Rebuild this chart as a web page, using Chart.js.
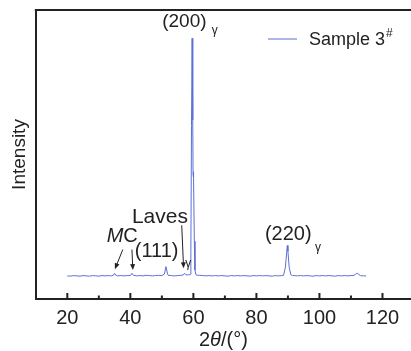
<!DOCTYPE html>
<html>
<head>
<meta charset="utf-8">
<script src="https://cdn.jsdelivr.net/npm/chart.js@4/dist/chart.umd.min.js"></script>
<style>
  html, body { margin: 0; padding: 0; background: #fff; }
  #wrap { width: 411px; height: 351px; }
</style>
</head>
<body>
<div id="wrap"><canvas id="xrd" width="411" height="351"></canvas></div>
<script>
// 衍射数据
const twoTheta = [
  20, 21, 22, 23, 24, 25, 26, 27, 28, 29, 30, 31, 32, 33, 34, 34.6, 35, 35.4,
  36, 37, 38, 39, 40, 40.5, 41, 42, 43, 44, 45, 46, 47, 48, 49, 50,
  50.8, 51.3, 51.8, 52, 53, 54, 55, 56, 56.8, 57.2, 57.6, 58, 58.4, 58.8,
  59.0, 59.2, 59.4, 59.6, 59.8, 59.9, 60.0, 60.1, 60.3, 60.5, 60.8, 61.2, 62,
  63, 64, 65, 66, 67, 68, 69, 70, 71, 72, 73, 74, 75, 76, 77, 78, 79, 80,
  81, 82, 83, 84, 85, 86, 87, 88, 88.6, 89.2, 89.6, 89.8, 90.0, 90.4, 90.9,
  91.5, 92, 93, 94, 95, 96, 97, 98, 99, 100, 101, 102, 103, 104, 105, 106,
  107, 108, 109, 110, 111, 111.5, 112.0, 112.5, 113, 114, 114.8
];
const intensity = [
  80, 79, 81, 80, 79, 81, 80, 79, 81, 80, 79, 81, 80, 81, 80, 82, 89, 82,
  80, 81, 80, 81, 81, 89, 82, 80, 81, 80, 82, 81, 80, 81, 82, 81,
  86, 112, 87, 82, 81, 80, 81, 82, 83, 89, 84, 83, 84, 83,
  86, 160, 600, 902, 620, 430, 440, 420, 200, 100, 84, 82, 82,
  81, 80, 81, 80, 81, 80, 81, 80, 79, 81, 80, 81, 80, 81, 80, 79, 81, 80,
  81, 80, 81, 80, 79, 81, 80, 81, 82, 110, 160, 185, 165, 110, 84,
  81, 81, 80, 81, 80, 81, 80, 79, 81, 80, 81, 80, 81, 80, 79, 81,
  80, 81, 80, 81, 82, 86, 89, 85, 81, 80, 80
];
const xTicks = [20, 40, 60, 80, 100, 120];
const seriesName = 'Sample 3';

const FONT = '"Liberation Sans", Arial, sans-serif';
const INK = '#222';
const LINE = '#5b6fd6';

// 图中标注（数据坐标）
const notes = [
  { x: 50.1, y: 958, size: 19, parts: [{ t: '(200)' }] },
  { x: 65.8, y: 930, size: 12, parts: [{ t: 'γ' }] },
  { x: 82.7, y: 224, size: 20, parts: [{ t: '(220)' }] },
  { x: 98.6, y: 178, size: 12, parts: [{ t: 'γ' }] },
  { x: 40.5, y: 283, size: 21, parts: [{ t: 'Laves' }] },
  { x: 32.5, y: 215, size: 20, parts: [{ t: 'M', i: true }, { t: 'C' }] },
  { x: 41.4, y: 163, size: 20, parts: [{ t: '(111)' }] },
  { x: 57.4, y: 122, size: 12, parts: [{ t: 'γ' }] }
];
const arrows = [
  { from: [37.6, 171], to: [35.1, 103] },
  { from: [40.5, 171], to: [40.8, 100] },
  { from: [56.3, 255], to: [56.9, 106] }
];

function drawParts(ctx, parts, size, px, py, align) {
  const widths = parts.map(p => {
    ctx.font = (p.i ? 'italic ' : '') + size + 'px ' + FONT;
    return ctx.measureText(p.t).width;
  });
  let cx = align === 'center' ? px - widths.reduce((a, b) => a + b, 0) / 2 : px;
  parts.forEach((p, k) => {
    ctx.font = (p.i ? 'italic ' : '') + size + 'px ' + FONT;
    ctx.fillText(p.t, cx, py);
    cx += widths[k];
  });
}

const deco = {
  id: 'deco',
  afterDraw(chart) {
    const { ctx, chartArea } = chart;
    const x = chart.scales.x, y = chart.scales.y;
    ctx.save();

    // 上边框
    ctx.strokeStyle = INK;
    ctx.lineWidth = 2;
    ctx.beginPath();
    ctx.moveTo(chartArea.left - 1, chartArea.top);
    ctx.lineTo(chartArea.right, chartArea.top);
    ctx.stroke();

    // 内向刻度
    x.ticks.forEach(t => {
      const v = t.value;
      if (v <= x.min || Math.abs(v % 10) > 1e-6) return;
      const px = x.getPixelForValue(v);
      const len = v % 20 === 0 ? 6 : 3.5;
      ctx.beginPath();
      ctx.moveTo(px, chartArea.bottom);
      ctx.lineTo(px, chartArea.bottom - len);
      ctx.stroke();
    });

    // 标注文字
    ctx.fillStyle = INK;
    ctx.textBaseline = 'middle';
    ctx.textAlign = 'left';
    notes.forEach(n => {
      drawParts(ctx, n.parts, n.size, x.getPixelForValue(n.x), y.getPixelForValue(n.y), 'left');
    });

    // 箭头
    ctx.lineWidth = 1;
    arrows.forEach(a => {
      const x1 = x.getPixelForValue(a.from[0]), y1 = y.getPixelForValue(a.from[1]);
      const x2 = x.getPixelForValue(a.to[0]), y2 = y.getPixelForValue(a.to[1]);
      const ang = Math.atan2(y2 - y1, x2 - x1);
      ctx.beginPath();
      ctx.moveTo(x1, y1);
      ctx.lineTo(x2 - 4 * Math.cos(ang), y2 - 4 * Math.sin(ang));
      ctx.stroke();
      ctx.beginPath();
      ctx.moveTo(x2, y2);
      ctx.lineTo(x2 - 6 * Math.cos(ang) + 2.5 * Math.sin(ang), y2 - 6 * Math.sin(ang) - 2.5 * Math.cos(ang));
      ctx.lineTo(x2 - 6 * Math.cos(ang) - 2.5 * Math.sin(ang), y2 - 6 * Math.sin(ang) + 2.5 * Math.cos(ang));
      ctx.closePath();
      ctx.fill();
    });

    // 图例
    const ly = chartArea.top + 29;
    ctx.strokeStyle = chart.data.datasets[0].borderColor;
    ctx.lineWidth = 1;
    ctx.beginPath();
    ctx.moveTo(chartArea.right - 143, ly);
    ctx.lineTo(chartArea.right - 114, ly);
    ctx.stroke();
    ctx.font = '18px ' + FONT;
    ctx.fillText(chart.data.datasets[0].label, chartArea.right - 102, ly + 1);
    const w = ctx.measureText(chart.data.datasets[0].label).width;
    ctx.font = '12px ' + FONT;
    ctx.fillText('#', chartArea.right - 102 + w + 1, ly - 5);

    // x 轴标题
    drawParts(ctx, [{ t: '2' }, { t: 'θ', i: true }, { t: '/(°)' }], 20,
      (chartArea.left + chartArea.right) / 2, chart.height - 11, 'center');

    ctx.restore();
  }
};

new Chart(document.getElementById('xrd'), {
  type: 'line',
  data: {
    labels: twoTheta,
    datasets: [{
      label: seriesName,
      data: twoTheta.map((t, k) => ({ x: t, y: intensity[k] })),
      borderColor: LINE,
      borderWidth: 1,
      pointRadius: 0,
      tension: 0,
      fill: false
    }]
  },
  options: {
    responsive: false,
    animation: false,
    layout: { padding: { left: 8, right: 0, top: 10, bottom: 14 } },
    plugins: {
      legend: { display: false },
      tooltip: { enabled: false }
    },
    scales: {
      x: {
        type: 'linear',
        position: 'bottom',
        min: 10,
        max: 129.05,
        grid: { display: false, drawTicks: false },
        border: { display: true, width: 2, color: INK },
        ticks: {
          stepSize: 10,
          includeBounds: false,
          autoSkip: false,
          maxRotation: 0,
          padding: 7,
          color: INK,
          font: { family: FONT, size: 20 },
          callback: v => xTicks.includes(v) ? String(v) : ''
        }
      },
      y: {
        min: 0,
        max: 1000,
        grid: { display: false, drawTicks: false },
        border: { display: true, width: 2, color: INK },
        ticks: { display: false },
        title: {
          display: true,
          text: 'Intensity',
          color: INK,
          font: { family: FONT, size: 19 },
          padding: { top: 0, bottom: 5 }
        }
      }
    }
  },
  plugins: [deco]
});
</script>
</body>
</html>
